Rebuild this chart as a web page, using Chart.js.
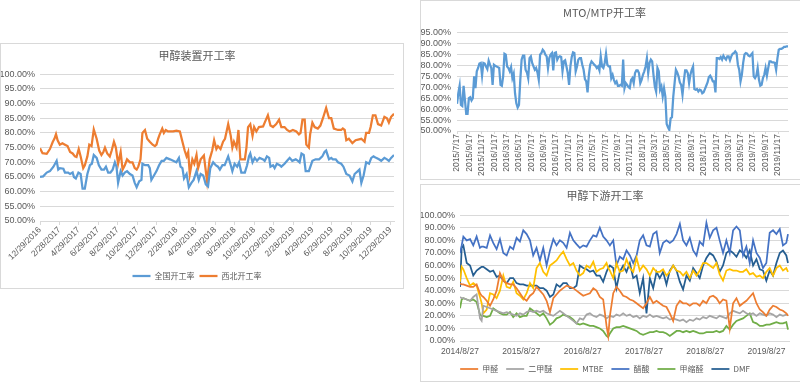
<!DOCTYPE html>
<html><head><meta charset="utf-8">
<script src="https://cdn.jsdelivr.net/npm/chart.js@4.4.1/dist/chart.umd.min.js"></script>
<style>
html,body{margin:0;padding:0;background:#fff;width:800px;height:383px;overflow:hidden;position:relative}
.panel{position:absolute;border:1px solid #d9d9d9;box-sizing:border-box;pointer-events:none;z-index:2}
canvas{position:absolute}
</style></head><body>
<div class="panel" style="left:0;top:43px;width:404px;height:246px"></div>
<div class="panel" style="left:420px;top:0;width:381px;height:180px"></div>
<div class="panel" style="left:420px;top:184px;width:381px;height:198px"></div>
<canvas id="c1" width="402" height="250" style="left:0;top:44px"></canvas>
<canvas id="c2" width="379" height="177" style="left:421px;top:1px"></canvas>
<canvas id="c3" width="379" height="200" style="left:421px;top:185px"></canvas>
<script>
// ---------- Chart 1: 甲醇装置开工率 (x = days since 12/29/2016) ----------
const c1Start = '12/29/2016';
const c1TickLabels = ['12/29/2016','2/28/2017','4/29/2017','6/29/2017','8/29/2017','10/29/2017','12/29/2017','2/28/2018','4/29/2018','6/29/2018','8/29/2018','10/29/2018','12/29/2018','2/28/2019','4/29/2019','6/29/2019','8/29/2019','10/29/2019','12/29/2019'];
const c1LastDay = 1106;
const natDays = [0,10,21,31,42,52,57,62,73,78,88,94,102,106,112,120,127,133,140,148,156,162,168,177,184,192,200,206,213,220,227,234,239,244,252,258,265,272,281,289,296,302,310,317,320,328,338,343,348,356,364,372,380,387,395,406,416,426,434,439,445,450,458,465,473,480,489,496,502,510,518,525,532,541,549,556,562,570,577,588,596,601,608,616,622,629,640,647,653,657,664,671,678,686,697,702,709,716,720,728,733,740,749,754,764,772,780,788,799,806,811,817,824,830,840,851,861,872,882,889,894,903,910,915,924,931,941,948,957,967,976,983,993,998,1004,1011,1019,1028,1035,1042,1050,1059,1066,1076,1084,1090,1097,1106];
const natRate = [65,65.2,66.5,67,68.5,70.5,67.5,68,67.8,66.5,66.5,66,66.5,65,64.5,66.5,66,61,61,66,69,69.5,72.5,71.5,69,67.5,67.5,68.5,66.5,66.5,67.5,70,68.5,63,67,65.5,66.5,67,66,65.5,63,61.5,63.5,64,69.5,69,69,68,64,65.5,67,69,70.5,70.5,71.5,71,70.5,70,71.5,68.5,68,64.5,66,61.5,63,64,67,64,66,65.5,62.5,61.8,68,70,69,68.5,67.5,69,69,72,69,67,69.5,68.5,70,66.5,66.5,69,72,73,70,71.5,70.5,71.5,71,70.5,72,71.5,68.5,69,68,69.5,69,68.5,69.5,70.5,71.5,70.5,71,70.5,70,73,72.5,67,67,70.5,71,71,72,73.5,74,71,71.5,71,71,70,69.5,68.5,66,65.5,63.5,66,67,67.5,63,65.5,70,69.5,71.5,72,71.5,71,70.5,71.5,71,70.5,71.5,72.5];
const nwDays = [0,8,21,31,40,45,50,55,62,70,78,86,94,102,109,114,121,127,135,140,148,154,161,168,177,185,192,198,203,210,218,224,231,237,244,252,258,265,272,281,289,296,302,307,314,320,328,335,343,352,359,364,369,374,382,387,393,400,416,426,437,445,452,458,463,468,476,482,489,494,502,512,522,530,538,544,551,556,564,572,578,588,596,601,606,614,620,626,640,645,650,657,664,669,676,684,697,704,712,720,728,738,747,754,764,772,780,790,801,809,814,820,827,832,840,844,851,858,868,876,884,894,903,910,918,931,941,946,952,957,965,976,986,1004,1014,1019,1028,1033,1040,1048,1056,1066,1076,1084,1090,1097,1106];
const nwRate = [74.8,73.1,72.9,74.5,77,78,79.6,77.5,76,76.5,76,75.5,73.5,73,72,71.8,74.5,72,68,69,72,76,75.5,81.2,78,74,72.5,73.5,75,73,72,74,77,75,69.5,73.5,67.5,69,71,70,70,68,67.5,68.5,71,80,81,78,77,76,75.5,76,78,79.5,81.5,80,81,80.5,80.5,80.8,80.5,77,74,72,73.5,66,71,69.5,72.5,68,71,72.3,63.5,71,74,77.5,74.5,75.5,74.5,77,78,83,79,75,77,75,81,71,71,75,82,83,79,82,80.5,82,82.2,84,86,82.5,82,83,84.5,82,82,81,80.5,81,80.5,79.5,80,84.5,84.5,76,75,79.5,83.5,82,81.5,82.5,85,88.5,85,85,81.5,81,81,81.5,81,77.5,78,76.5,77.5,78,77,80,80,82,86,86,83,82.5,85.5,85,83.5,85.5,86.5];

// ---------- Chart 2: MTO/MTP开工率 (evenly spaced readings) ----------
const mtoFirst = '2015/7/17', mtoLast = '2020/1/5';
const mtoTickLabels = ['2015/7/17','2015/9/17','2015/11/17','2016/1/17','2016/3/17','2016/5/17','2016/7/17','2016/9/17','2016/11/17','2017/1/17','2017/3/17','2017/5/17','2017/7/17','2017/9/17','2017/11/17','2018/1/17','2018/3/17','2018/5/17','2018/7/17','2018/9/17','2018/11/17','2019/1/17','2019/3/17','2019/5/17','2019/7/17','2019/9/17','2019/11/17'];
const mtoRate = [62.4,67.2,70.6,61.9,61.4,70.6,64.2,57.8,57.8,65,65.4,63.9,65,74.9,69.5,77.2,78.7,80.7,81,75.2,81,80.7,79.4,78.2,82,80.2,78.7,71,80.2,79.7,79.4,79.1,78.7,71,70.6,74.9,85.2,84.8,79.4,78.7,77.2,79.1,74.1,76.1,67.2,62.6,60.7,61.9,73.3,82.5,84.3,84.3,77.9,76.7,74,83.2,84,81,79.4,77.9,78.7,76.7,73.3,84.8,85.5,87,86.3,84.8,84,78.7,83.2,84.8,85.5,77.6,85.5,85.8,82.5,83.7,84,83.7,77.2,81.7,82.2,79.4,76.4,71,79.4,83.7,85.8,85.5,77.2,79.4,82.5,83.2,83.2,80.2,77.9,73.6,72.6,67.6,75.6,80.2,81.7,81,80.2,79.7,78.7,79.4,77.6,84,79.4,78.7,81,85.2,80.2,79.4,79.4,74.1,75.6,73.3,71.8,72.6,70.6,70.6,71,70.6,82.5,69.5,71.8,71,70,69.5,73.3,74.1,71.8,76.4,77.6,77.6,76.4,71.8,73.3,75.6,77.2,79.4,83.2,76.4,81,82.5,81.7,75.6,70.3,68,78.7,77.2,68.8,70.3,65.7,69.5,65.7,53.2,51.7,50.5,55.8,56.3,65.7,71.8,77.9,76.7,74.9,72.1,71,66.5,72.6,77.6,77.6,76.4,71.8,75.6,77.9,79.4,69.1,68.8,69.1,68,68.8,68.5,67.2,67.6,69.1,70.6,72.1,74.6,75.2,74.1,72.6,72.6,67.6,83.2,83.2,82.8,83.7,82.5,84.3,83.2,82.5,84,84,82.2,84,85.2,85.5,86.3,85.5,80.2,77.9,72.6,75.6,81,84.8,85.5,85.2,84.3,84,84.8,85.5,74.9,74.1,75.2,78.7,73.3,70.6,71,74.1,75.6,78.7,75.2,78.7,81.7,81.7,81.2,81.2,81,77.9,83.2,87,87.4,87.4,87.8,88.3,88.3,88.6,88.6];

// ---------- Chart 3: 甲醇下游开工率 (x = days since 2014/8/27) ----------
const dsStart = '2014/8/27';
const dsTickLabels = ['2014/8/27','2015/8/27','2016/8/27','2017/8/27','2018/8/27','2019/8/27'];
const dsLastDay = 1960;
const dsDays = [0,10,20,40,60,79,99,119,129,139,159,179,198,218,238,258,278,298,317,337,357,377,397,417,436,456,476,496,516,536,556,575,595,615,635,655,675,694,714,734,754,774,794,813,833,853,873,883,893,913,932,952,972,992,1012,1032,1052,1071,1091,1111,1131,1151,1171,1190,1210,1230,1250,1270,1290,1310,1329,1349,1369,1389,1409,1428,1448,1468,1488,1508,1528,1547,1567,1587,1607,1627,1647,1667,1686,1706,1726,1746,1766,1786,1805,1825,1845,1865,1885,1905,1924,1944,1954];
const formaldehyde = [46,45,45,44,43,43,45,38,36,35, 32,28,33,40,54,48,46,45,45,42, 38,34,32,36,38,43,40,37,32,23, 34,37,40,42,44,43,42,40,38,36, 37,38,42,40,35,33,12,4,20,38, 43,40,36,35,33,32,30,28,26,30, 35,30,32,30,28,27,22,16,28,32, 30,30,28,30,30,28,32,30,35,36, 34,30,33,32,10,30,34,28,30,32, 35,38,30,25,23,20,25,28,27,25, 24,22,20];
const dme = [35,34,34,33,32,35,37,18,16,28, 27,26,25,24,23,22,23,22,21,20, 22,21,23,24,23,24,23,24,22,21, 20,22,24,22,20,18,16,14,18,17, 21,22,20,19,21,20,18,19,20,19, 21,20,22,20,21,19,20,18,20,19, 21,19,20,19,18,19,17,18,17,16, 17,15,17,16,18,17,19,18,20,19, 18,20,19,18,22,24,23,22,24,22, 21,22,20,22,21,20,22,21,19,21, 20,21,21];
const mtbe = [47,59,57,50,44,46,44,35,30,22, 25,38,37,34,40,52,43,42,47,38, 36,33,38,46,42,58,62,55,52,60, 62,64,68,71,65,60,62,56,52,54, 60,58,63,55,57,58,62,58,56,50, 62,55,56,65,58,55,66,56,60,57, 52,58,55,55,57,52,55,60,56,55, 52,55,50,56,52,56,62,62,60,58, 62,53,48,56,57,56,56,55,55,57, 53,54,51,52,50,55,58,52,58,60, 56,58,55];
const aceticAcid = [70,76,83,80,81,76,83,74,75,75, 74,84,78,73,81,70,68,75,73,82, 79,88,85,80,68,74,64,74,60,72, 81,76,80,78,74,86,80,77,74,76, 75,80,84,83,90,83,80,78,76,80, 60,67,65,72,68,62,68,80,84,76, 75,85,87,70,78,80,78,80,85,93, 80,76,82,72,68,79,76,94,82,88, 90,80,70,80,70,88,91,88,68,75, 62,80,70,66,58,62,86,88,85,89, 76,78,85];
const methylal = [26,33,34,33,32,33,31,21,20,20, 19,20,26,24,22,21,21,23,19,22, 19,20,20,26,24,22,20,22,18,13, 15,18,19,21,20,19,17,14,13,14, 13,12,12,11,10,8,4,3,6,10, 11,11,12,11,10,9,8,6,5,6, 7,7,8,7,7,6,4,6,8,8, 7,8,7,8,7,6,6,7,7,7, 8,7,8,12,9,13,16,17,18,20, 22,15,14,12,12,13,13,14,15,14, 14,15,9];
const dmf = [43,74,76,62,60,52,56,58,59,59, 57,55,56,51,52,48,46,50,50,46, 45,45,44,44,44,44,42,42,40,35, 37,45,43,46,46,42,42,44,60,58, 57,55,56,52,52,47,55,58,60,58, 42,55,60,55,62,50,52,38,50,22, 50,42,55,50,55,45,56,60,56,47, 41,52,48,58,54,50,60,66,70,68, 63,55,60,70,72,70,67,72,70,66, 72,60,65,57,56,48,56,52,62,70, 72,68,62];

// ---------- helpers ----------
const FONT_NUM = "'Liberation Sans Narrow','Liberation Sans','Noto Sans CJK SC',sans-serif";
const FONT_CJK = "'Noto Sans CJK SC','Noto Sans',sans-serif";
const GRID = '#d9d9d9', TXT = '#595959';
const DAY = 864e5;
const ymd = s => { const [y,m,d] = s.split('/').map(Number); return Date.UTC(y,m-1,d); };
const mdy = s => { const [m,d,y] = s.split('/').map(Number); return Date.UTC(y,m-1,d); };
const pairs = (xs, ys) => xs.map((x,i) => ({x, y: ys[i]}));
const line = (label, xs, ys, color, w) => ({label, data: pairs(xs, ys), borderColor: color, backgroundColor: color,
  borderWidth: w, pointRadius: 0, pointHoverRadius: 0, tension: 0, fill: false});
const pct = v => v.toFixed(2) + '%';

function yAxis(min, max, step, width, pad) {
  return { min, max, ticks: { stepSize: step, autoSkip: false, color: TXT, padding: pad, font: {family: FONT_NUM, size: 9}, callback: pct },
    grid: { color: GRID, drawTicks: false }, border: { display: false },
    afterFit: s => { s.width = width; } };
}
function xAxis(max, tickVals, labels, rot, height, tickLen, pad, fontSize) {
  return { type: 'linear', min: 0, max,
    afterBuildTicks: s => { s.ticks = tickVals.map(v => ({value: v})); },
    ticks: { autoSkip: false, minRotation: rot, maxRotation: rot, color: TXT, padding: pad,
      font: {family: FONT_NUM, size: fontSize}, callback: (v, i) => labels[i] },
    grid: { drawOnChartArea: false, color: GRID, tickLength: tickLen, drawTicks: tickLen > 0 },
    border: { color: GRID },
    afterFit: s => { s.height = height; } };
}
const titleOpt = (text, top, bottom) => ({ display: true, text, color: TXT,
  font: {family: FONT_CJK, size: 11, weight: 'normal'}, padding: {top, bottom} });
const legendOpt = (pad) => ({ position: 'bottom',
  labels: { usePointStyle: true, pointStyle: 'line', pointStyleWidth: 18, color: TXT, padding: pad,
    font: {family: FONT_CJK, size: 8} } });

// ---------- Chart 1 ----------
const c1Ticks = c1TickLabels.map(s => (mdy(s) - mdy(c1Start)) / DAY);
new Chart(document.getElementById('c1'), {
  type: 'line',
  data: { datasets: [
    line('全国开工率', natDays, natRate, '#5B9BD5', 2.25),
    line('西北开工率', nwDays, nwRate, '#ED7D31', 2.25)
  ]},
  options: { responsive: false, animation: false,
    layout: { padding: {left: 0, right: 8, top: 0, bottom: 4} },
    plugins: { title: titleOpt('甲醇装置开工率', 5, 12), legend: legendOpt(5), tooltip: {enabled: false} },
    scales: { x: xAxis(c1LastDay, c1Ticks, c1TickLabels, 45, 46, 4, 0, 8.5), y: yAxis(50, 100, 5, 40, 5) } }
});

// ---------- Chart 2 ----------
const mtoSpan = (ymd(mtoLast) - ymd(mtoFirst)) / DAY;
const mtoDays = mtoRate.map((_, i) => i * mtoSpan / (mtoRate.length - 1));
const mtoTicks = mtoTickLabels.map(s => (ymd(s) - ymd(mtoFirst)) / DAY);
new Chart(document.getElementById('c2'), {
  type: 'line',
  data: { datasets: [ line('MTO/MTP开工率', mtoDays, mtoRate, '#5B9BD5', 2.25) ] },
  options: { responsive: false, animation: false,
    layout: { padding: {left: 0, right: 12, top: 0, bottom: 0} },
    plugins: { title: titleOpt('MTO/MTP开工率', 5, 13), legend: {display: false}, tooltip: {enabled: false} },
    scales: { x: xAxis(mtoSpan, mtoTicks, mtoTickLabels, 90, 47, 3, 0, 8.5), y: yAxis(50, 95, 5, 36, 6) } }
});

// ---------- Chart 3 ----------
const dsTicks = dsTickLabels.map(s => (ymd(s) - ymd(dsStart)) / DAY);
new Chart(document.getElementById('c3'), {
  type: 'line',
  data: { datasets: [
    line('甲醛', dsDays, formaldehyde, '#ED7D31', 1.75),
    line('二甲醚', dsDays, dme, '#A5A5A5', 1.75),
    line('MTBE', dsDays, mtbe, '#FFC000', 1.75),
    line('醋酸', dsDays, aceticAcid, '#4472C4', 1.75),
    line('甲缩醛', dsDays, methylal, '#70AD47', 1.75),
    line('DMF', dsDays, dmf, '#255E91', 1.75)
  ]},
  options: { responsive: false, animation: false,
    layout: { padding: {left: 0, right: 11, top: 0, bottom: 2} },
    plugins: { title: titleOpt('甲醇下游开工率', 4, 13), legend: legendOpt(8), tooltip: {enabled: false} },
    scales: { x: xAxis(dsLastDay, dsTicks, dsTickLabels, 0, 16, 0, 6, 8.5), y: yAxis(0, 100, 10, 39, 5) } }
});
</script>
</body></html>
